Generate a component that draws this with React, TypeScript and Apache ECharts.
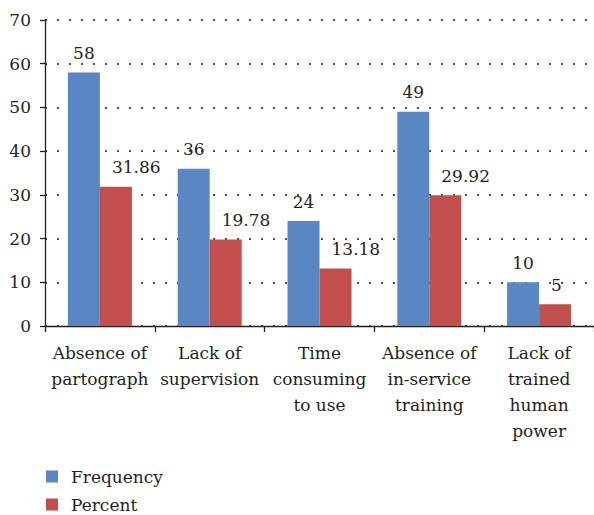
import React, { useEffect, useRef } from "react";
import * as echarts from "echarts";

const categories = [
  "Absence of\npartograph",
  "Lack of\nsupervision",
  "Time\nconsuming\nto use",
  "Absence of\nin-service\ntraining",
  "Lack of\ntrained\nhuman\npower",
];
const frequency = [58, 36, 24, 49, 10];
const percent = [31.86, 19.78, 13.18, 29.92, 5];
const seriesNames = ["Frequency", "Percent"];
const yTicks = { min: 0, max: 70, interval: 10 };

const FONT = "DejaVu Serif";
const FS = 17;
const TEXT = "#231f20";

export default function App() {
  const ref = useRef<HTMLDivElement>(null);
  useEffect(() => {
    if (!ref.current) return;
    const chart = echarts.init(ref.current, null, { renderer: "svg" });
    const legendBase = {
      left: 46,
      orient: "vertical",
      itemWidth: 12,
      itemHeight: 12,
      icon: "rect",
      padding: 0,
      textStyle: { fontFamily: FONT, fontSize: FS, color: TEXT, padding: [0, 0, 0, 8] },
    };
    chart.setOption({
      animation: false,
      backgroundColor: "#ffffff",
      textStyle: { fontFamily: FONT, color: TEXT },
      grid: { left: 45, top: 20, width: 552, height: 306, containLabel: false },
      legend: [
        { ...legendBase, top: 468, data: [seriesNames[0]] },
        { ...legendBase, top: 496, data: [seriesNames[1]] },
      ],
      xAxis: {
        type: "category",
        data: categories,
        boundaryGap: true,
        axisLine: { show: true, lineStyle: { color: "#231f20", width: 1.3 } },
        axisTick: { show: true, length: 6, lineStyle: { color: "#231f20", width: 1.3 } },
        axisLabel: {
          interval: 0,
          margin: 14,
          fontFamily: FONT,
          fontSize: FS,
          lineHeight: 26,
          color: TEXT,
          align: "center",
        },
      },
      yAxis: {
        type: "value",
        min: yTicks.min,
        max: yTicks.max,
        interval: yTicks.interval,
        axisLine: { show: true, lineStyle: { color: "#231f20", width: 1.3 } },
        axisTick: { show: true, length: 5, lineStyle: { color: "#231f20", width: 1.3 } },
        axisLabel: { margin: 14, fontFamily: FONT, fontSize: FS, color: TEXT },
        splitLine: {
          show: true,
          lineStyle: { color: "#505050", width: 2, type: [2, 10] },
        },
      },
      series: [
        {
          name: seriesNames[0],
          type: "bar",
          data: frequency,
          barWidth: 32,
          barGap: "0%",
          itemStyle: { color: "#5887c4" },
          label: {
            show: true,
            position: "top",
            distance: 11,
            fontFamily: FONT,
            fontSize: FS,
            color: TEXT,
          },
        },
        {
          name: seriesNames[1],
          type: "bar",
          data: percent,
          barWidth: 32,
          barGap: "0%",
          itemStyle: { color: "#c24f4c" },
          label: {
            show: true,
            position: "top",
            distance: 11,
            align: "left",
            offset: [-4, 0],
            fontFamily: FONT,
            fontSize: FS,
            color: TEXT,
          },
        },
      ],
    });
    return () => chart.dispose();
  }, []);
  return (
    <div
      ref={ref}
      style={{ position: "fixed", left: 0, top: 0, width: 594, height: 515, background: "#fff" }}
    />
  );
}
